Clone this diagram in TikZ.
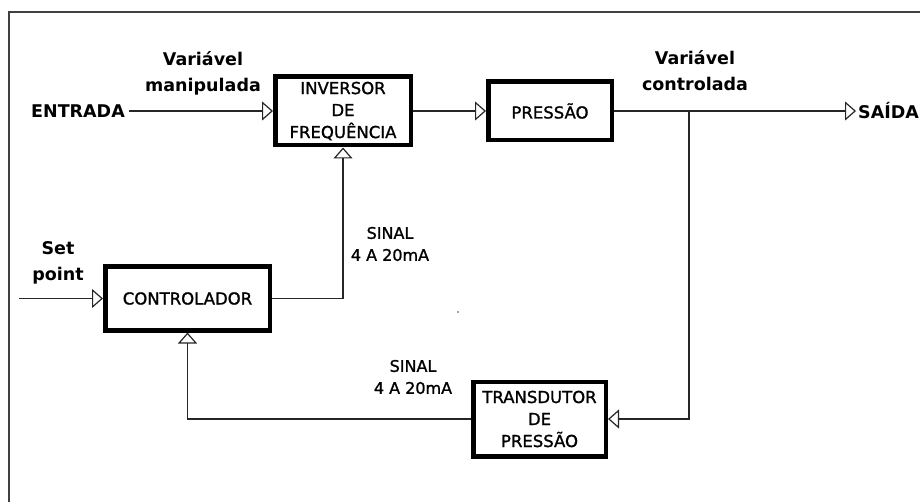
\documentclass[tikz,border=0pt]{standalone}
\usepackage{fontspec}
\setmainfont{DejaVu Sans}
\newfontfamily\boxfont[FakeBold=1.3]{DejaVu Sans}
\usetikzlibrary{arrows.meta,positioning,calc}
\tikzset{
  blockbox/.style={draw=black, line width=4.5pt, fill=white, align=center, inner sep=0pt,
    font=\boxfont\fontsize{16.5}{22}\selectfont},
  lbl/.style={align=center, inner sep=0pt, font=\bfseries\fontsize{17.5}{26}\selectfont},
  sig/.style={align=center, inner sep=0pt, font=\boxfont\fontsize{16}{22}\selectfont},
  conn/.style={line width=1.5pt, draw=black!85},
  arr/.style={conn, -{Triangle[open, length=11pt, width=19pt, line width=1.2pt]}},
}
\begin{document}
\begin{tikzpicture}[x=1pt, y=-1pt]
\useasboundingbox (0,0) rectangle (920,502);
% outer frame (partially visible)
\draw[line width=2pt, draw=black!75] (9,502) -- (9,12) -- (920,12);

% blocks
\node[blockbox, minimum width=135.5pt, minimum height=68.5pt] (inv) at (343,111) {INVERSOR\\DE\\FREQUÊNCIA};
\node[blockbox, minimum width=123.5pt, minimum height=58.5pt] (pres) at (550,111) {PRESSÃO};
\node[blockbox, minimum width=164.5pt, minimum height=63.5pt] (ctrl) at (187.5,298.5) {CONTROLADOR};
\node[blockbox, minimum width=132.5pt, minimum height=74.5pt] (trans) at (539.5,419) {TRANSDUTOR\\DE\\PRESSÃO};

% labels
\node[lbl, anchor=east, inner sep=4pt] (entrada) at (129,111) {ENTRADA};
\node[lbl, anchor=west, inner sep=2pt] (saida) at (856,111) {SAÍDA};
\node[lbl] (manip) at (203,73) {Variável\\manipulada};
\node[lbl] (contr) at (695,71) {Variável\\controlada};
\node[lbl] (setp) at (58,263) {Set\\point};
\node[sig] (sig1) at (390,244) {SINAL\\4 A 20mA};
\node[sig] (sig2) at (413,377) {SINAL\\4 A 20mA};

\coordinate (spin) at (19,298.5);
\coordinate (br) at (689,111);

% connectors
\draw[arr] (entrada.east) -- (inv.west);
\draw[arr] (inv.east) -- (pres.west);
\draw[arr] (pres.east) -- (saida.west);
\draw[arr] (br) |- (trans.east);
\draw[arr] (trans.west) -| (ctrl.south);
\draw[arr] (ctrl.east) -| (inv.south);
\draw[arr] (spin) -- (ctrl.west);

% stray dot
\fill[black!70] (458,312) circle (0.8pt);
\end{tikzpicture}
\end{document}
